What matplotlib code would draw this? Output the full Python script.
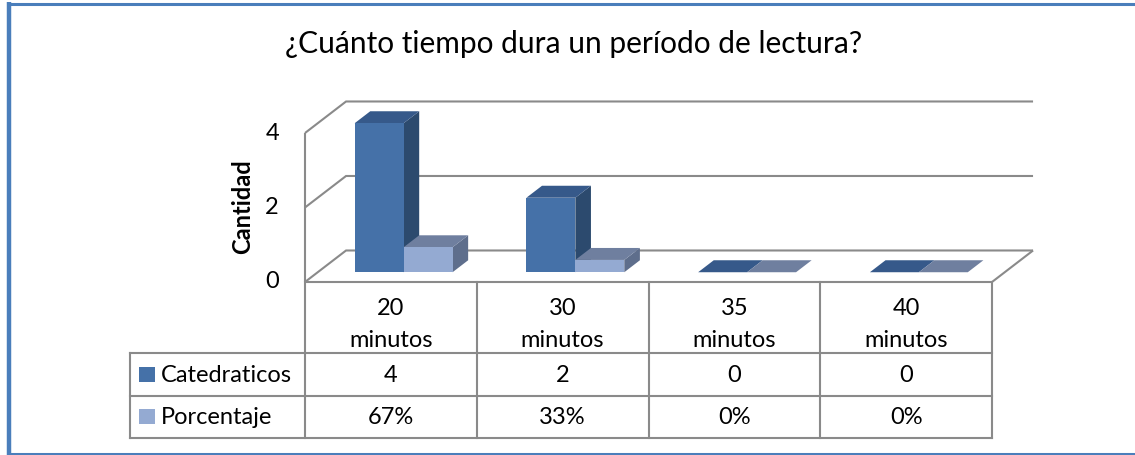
import matplotlib
matplotlib.use('Agg')
import matplotlib.pyplot as plt
import matplotlib.transforms as mtransforms
from matplotlib.patches import Polygon, Rectangle
from matplotlib.lines import Line2D

plt.rcParams['font.family'] = ['Lato', 'DejaVu Sans']

TITLE = "¿Cuánto tiempo dura un período de lectura?"
Y_LABEL = "Cantidad"
CATEGORIES = ["20 minutos", "30 minutos", "35 minutos", "40 minutos"]
SERIES = ["Catedraticos", "Porcentaje"]
catedraticos = [4, 2, 0, 0]
porcentaje = [0.67, 0.33, 0, 0]
Y_TICKS = [0, 2, 4]

# face colours: front, side, top
COLORS = {
    "Catedraticos": ("#4571a8", "#2c4a6e", "#36598a"),
    "Porcentaje": ("#94aad2", "#5e6e8c", "#6f7f9f"),
}
GRID = "#8a8a8a"
FRAME = "#4a7ebb"
FS = 17

W, H = 1135, 455
fig = plt.figure(figsize=(W / 100, H / 100), dpi=100)


def fx(px):
    return px / W


def fy(py):
    return 1 - py / H


# front plane of the 3D box, in pixels
PL, PR, P0, P4 = 305, 992, 282, 133
ax = fig.add_axes([fx(PL), fy(P0), fx(PR) - fx(PL), fy(P4) - fy(P0)])
ax.set_xlim(0, len(CATEGORIES))
ax.set_ylim(0, max(Y_TICKS))
ax.axis('off')

ytrans = mtransforms.blended_transform_factory(fig.transFigure, ax.transData)
for t in Y_TICKS:
    ax.text(fx(279), t, str(t), transform=ytrans, ha='right', va='center', fontsize=FS)
fig.text(fx(243), fy(207), Y_LABEL, rotation=90, ha='center', va='center',
         fontsize=17, fontweight='bold')

# depth offset (data units for z = 1)
DX, DY = 0.239, 0.846


def P(x, y, z):
    return (x + z * DX, y + z * DY)


n = len(CATEGORIES)
kw = dict(color=GRID, lw=1.5, clip_on=False, solid_joinstyle='miter', solid_capstyle='butt')
for t in Y_TICKS:
    pts = [P(0, t, 0), P(0, t, 1), P(n, t, 1)]
    ax.plot([p[0] for p in pts], [p[1] for p in pts], **kw)
ax.plot([0, 0], [0, max(Y_TICKS)], **kw)
pts = [P(0, 0, 0), P(n, 0, 0), P(n, 0, 1)]
ax.plot([p[0] for p in pts], [p[1] for p in pts], **kw)

# bars
BAR_W = 0.285
Z0, Z1 = 0.31, 0.69
for i in range(n):
    for j, (name, vals) in enumerate(zip(SERIES, [catedraticos, porcentaje])):
        v = vals[i]
        x0 = i + 0.5 - BAR_W + j * BAR_W
        x1 = x0 + BAR_W
        front_c, side_c, top_c = COLORS[name]
        side = [P(x1, 0, Z0), P(x1, v, Z0), P(x1, v, Z1), P(x1, 0, Z1)]
        top = [P(x0, v, Z0), P(x1, v, Z0), P(x1, v, Z1), P(x0, v, Z1)]
        front = [P(x0, 0, Z0), P(x1, 0, Z0), P(x1, v, Z0), P(x0, v, Z0)]
        for poly, c in [(side, side_c), (top, top_c), (front, front_c)]:
            ax.add_patch(Polygon(poly, closed=True, facecolor=c, edgecolor='none',
                                 clip_on=False, zorder=3))

# data table
trans = mtransforms.blended_transform_factory(ax.transData, fig.transFigure)
TL = 130
ROWS = [282, 353, 396, 438]
tkw = dict(color=GRID, lw=1.5, solid_capstyle='projecting')
for k in range(n + 1):
    ax.add_line(Line2D([k, k], [fy(ROWS[0]), fy(ROWS[-1])], transform=trans, clip_on=False, **tkw))
fig.add_artist(Line2D([fx(TL), fx(TL)], [fy(ROWS[1]), fy(ROWS[-1])], **tkw))
for r in ROWS[1:]:
    fig.add_artist(Line2D([fx(TL), fx(PR)], [fy(r), fy(r)], **tkw))

for i, cat in enumerate(CATEGORIES):
    for line, base in zip(cat.split(), [315, 347]):
        ax.text(i + 0.5, fy(base), line, transform=trans, ha='center', va='baseline', fontsize=FS)
    ax.text(i + 0.5, fy(382), f"{catedraticos[i]}", transform=trans, ha='center', va='baseline', fontsize=FS)
    ax.text(i + 0.5, fy(424), f"{porcentaje[i]:.0%}", transform=trans, ha='center', va='baseline', fontsize=FS)

for name, base, top in zip(SERIES, [382, 424], [367, 409]):
    fig.add_artist(Rectangle((fx(139), fy(top + 15)), fx(16), 15 / H,
                             facecolor=COLORS[name][0], edgecolor='none'))
    fig.text(fx(161), fy(base), name, ha='left', va='baseline', fontsize=FS)

fig.text(fx(574), fy(53), TITLE, ha='center', va='baseline', fontsize=21.5)

# chart area frame
fkw = dict(color=FRAME, solid_capstyle='butt')
fig.add_artist(Line2D([fx(8.5), fx(8.5)], [fy(2), fy(H)], lw=3.2, **fkw))
fig.add_artist(Line2D([fx(6.5), 1], [fy(3.5), fy(3.5)], lw=2.2, **fkw))
fig.add_artist(Line2D([fx(6.5), 1], [fy(453.8), fy(453.8)], lw=2.2, **fkw))

fig.savefig("out.png", dpi=100)
